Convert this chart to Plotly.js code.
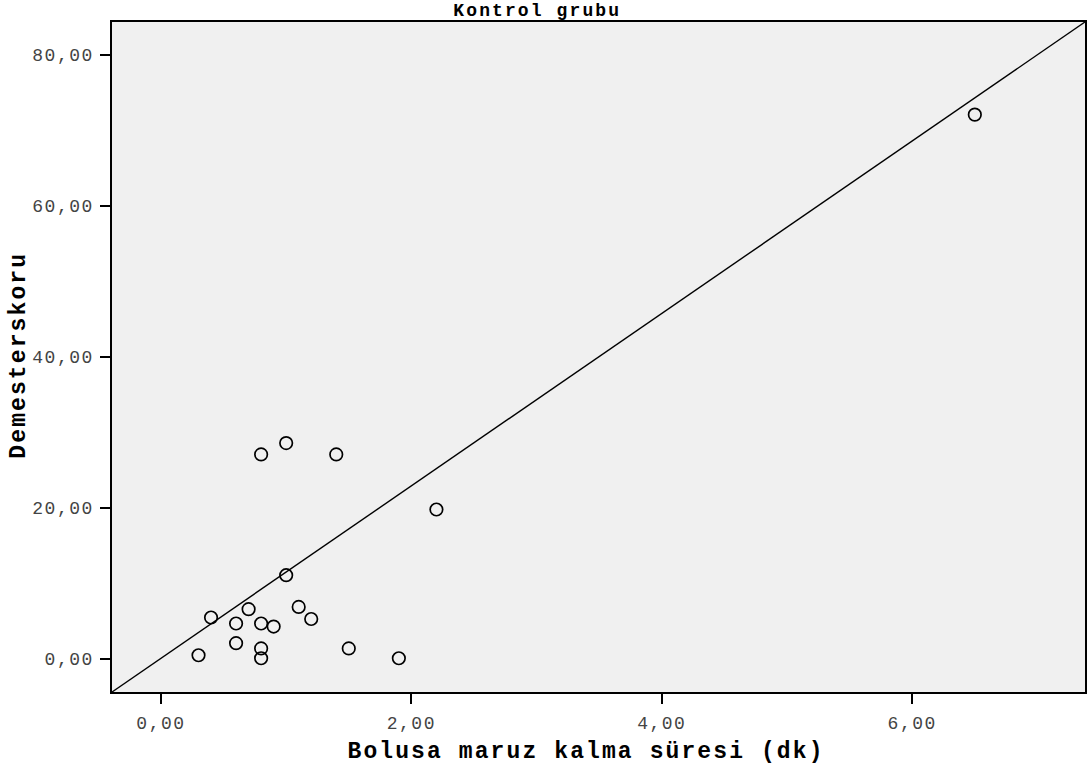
<!DOCTYPE html>
<html>
<head>
<meta charset="utf-8">
<script src="https://cdn.plot.ly/plotly-3.0.1.min.js"></script>
<style>
html,body{margin:0;padding:0;background:#fff;}
#chart{width:1087px;height:774px;}
#chart .xtick text, #chart .ytick text{letter-spacing:1.5px;}
#chart .annotation-text{letter-spacing:2.1px;}
</style>
</head>
<body>
<div id="chart"></div>
<script>
// Data
const bolusSuresi = [6.5, 2.2, 1.0, 0.8, 1.4, 1.0, 0.7, 0.4, 1.1, 0.6, 0.8, 0.9, 1.2, 0.6, 0.8, 0.8, 0.3, 1.5, 1.9];
const demesterSkoru = [72.1, 19.8, 28.6, 27.1, 27.1, 11.1, 6.6, 5.5, 6.9, 4.7, 4.7, 4.3, 5.3, 2.1, 1.4, 0.1, 0.5, 1.4, 0.1];
const xRange = [-0.391, 7.380];
const yRange = [-4.37, 84.37];
const xTicks = [0, 2, 4, 6];
const yTicks = [0, 20, 40, 60, 80];
const titleText = 'Kontrol grubu';
const xTitle = 'Bolusa maruz kalma süresi (dk)';
const yTitle = 'Demesterskoru';

const mono = 'Liberation Mono, Courier New, monospace';

const traces = [
  {
    x: [xRange[0], xRange[1]],
    y: [yRange[0], yRange[1]],
    mode: 'lines',
    line: {color: '#000', width: 1.4},
    hoverinfo: 'skip',
    showlegend: false
  },
  {
    x: bolusSuresi,
    y: demesterSkoru,
    mode: 'markers',
    marker: {symbol: 'circle-open', size: 12.5, color: '#000', line: {width: 1.7, color: '#000'}},
    showlegend: false
  }
];

const layout = {
  width: 1087,
  height: 774,
  separators: ',.',
  paper_bgcolor: '#ffffff',
  plot_bgcolor: '#f0f0f0',
  margin: {l: 112, r: 2, t: 22, b: 82},
  xaxis: {
    range: xRange,
    tickvals: xTicks,
    tickformat: '.2f',
    ticks: 'outside', ticklen: 10, tickwidth: 2, tickcolor: '#000',
    ticklabelstandoff: 4,
    showgrid: false, zeroline: false,
    showline: true, linecolor: '#000', linewidth: 1.6, mirror: true,
    tickfont: {family: mono, size: 18, color: '#444'}
  },
  yaxis: {
    range: yRange,
    tickvals: yTicks,
    tickformat: '.2f',
    ticks: 'outside', ticklen: 10, tickwidth: 2, tickcolor: '#000',
    ticklabelstandoff: 3,
    showgrid: false, zeroline: false,
    showline: true, linecolor: '#000', linewidth: 1.6, mirror: true,
    tickfont: {family: mono, size: 18, color: '#444'}
  },
  annotations: [
    {
      text: '<b>' + titleText + '</b>',
      xref: 'paper', yref: 'paper',
      x: (537 - 112) / 973, y: 1 + (22 - 11) / 670,
      xanchor: 'center', yanchor: 'middle',
      borderpad: 0,
      showarrow: false,
      font: {family: mono, size: 18, color: '#000'}
    },
    {
      text: '<b>' + xTitle + '</b>',
      xref: 'paper', yref: 'paper',
      x: (586 - 112) / 973, y: (692 - 752) / 670,
      xanchor: 'center', yanchor: 'middle',
      showarrow: false,
      font: {family: mono, size: 23, color: '#000'}
    },
    {
      text: '<b>' + yTitle + '</b>',
      xref: 'paper', yref: 'paper',
      x: (19 - 112) / 973, y: (692 - 356) / 670,
      xanchor: 'center', yanchor: 'middle',
      textangle: -90,
      showarrow: false,
      font: {family: mono, size: 23, color: '#000'}
    }
  ]
};

Plotly.newPlot('chart', traces, layout, {displayModeBar: false, staticPlot: true});
</script>
</body>
</html>
